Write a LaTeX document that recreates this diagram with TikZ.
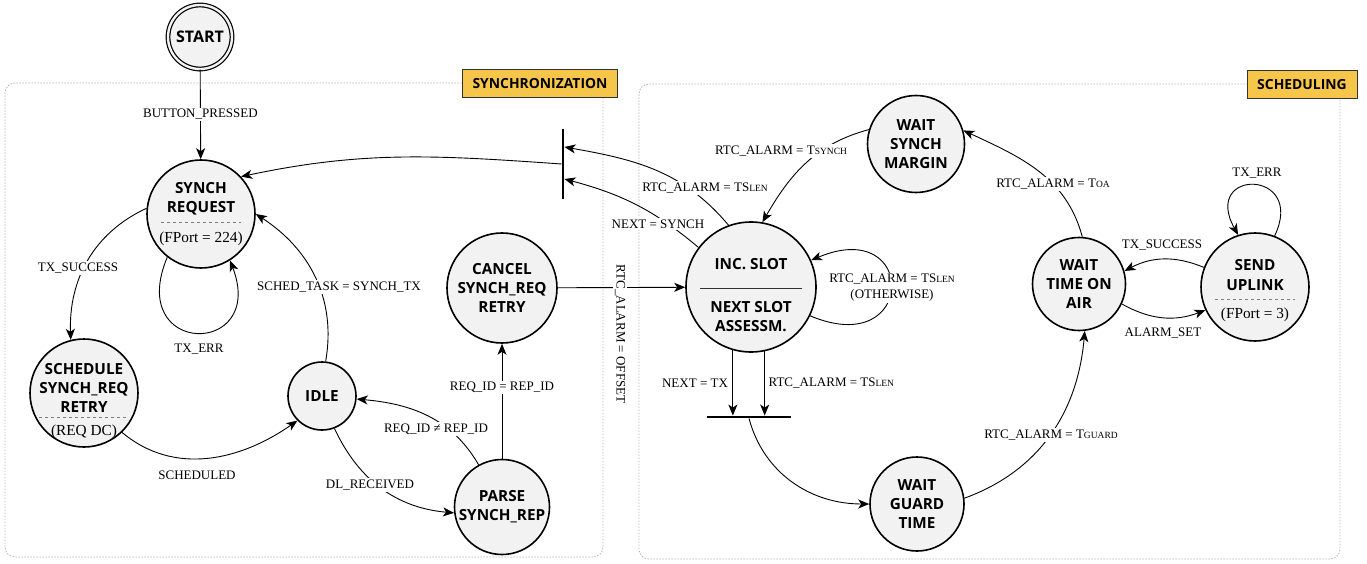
\documentclass[tikz,border=0pt]{standalone}
\usepackage{fontspec}
\setmainfont{Liberation Serif}
\newfontfamily\statefont{Open Sans}
\usetikzlibrary{arrows.meta}
\definecolor{stategray}{HTML}{F2F2F2}
\definecolor{groupgray}{HTML}{B4B4B4}
\definecolor{tagyellow}{HTML}{F5C64A}
\newcommand{\sml}[1]{{\fontsize{9.5}{11}\selectfont #1}}
\newcommand{\statenote}[1]{{\rmfamily\mdseries\fontsize{15.3}{17}\selectfont #1}}

\begin{document}
\begin{tikzpicture}[x=1pt,y=1pt]

\tikzset{
  StateStyle/.style = {circle, draw, line width=1.6pt, fill=stategray,
                       inner sep=0pt, minimum size=#1, align=center,
                       font=\statefont\bfseries\fontsize{15.3}{19}\selectfont},
  EdgeStyle/.style = {line width=0.9pt,
                      -{Stealth[length=11pt,width=9pt,inset=3pt]}},
  LabelStyle/.style = {fill=white, inner sep=1.5pt,
                       font=\fontsize{13}{16}\selectfont},
  BarStyle/.style = {fill=black, inner sep=0pt},
  GroupStyle/.style = {draw=groupgray, dash pattern=on 1.5pt off 1.5pt,
                       line width=0.8pt, rounded corners=10pt},
  TagStyle/.style = {draw=black!80, line width=1pt, fill=tagyellow,
                     minimum width=#1, minimum height=28pt, inner sep=0pt,
                     font=\statefont\bfseries\fontsize{13.9}{15}\selectfont},
  SepStyle/.style = {draw=gray, dashed, line width=0.6pt}
}

\useasboundingbox (0,0) rectangle (1367,563);

% groups
\draw[GroupStyle] (5,6) rectangle (603,480);
\draw[GroupStyle] (639,4) rectangle (1340,479);
\node[TagStyle=155pt] (synctag) at (540,479) {SYNCHRONIZATION};
\node[TagStyle=110pt] (schedtag) at (1302,478) {SCHEDULING};

% states
\node[StateStyle=64pt, line width=1.2pt, double=stategray, double distance=2.4pt,
      font=\statefont\bfseries\fontsize{16}{19}\selectfont] (start) at (200,526) {START};
\node[StateStyle=108pt, inner sep=-3pt] (sreq) at (201,349) {SYNCH\\REQUEST\\[11pt]\statenote{(FPort = 224)}};
\node[StateStyle=108pt, inner sep=-9pt, text height=87pt, text depth=3pt] (sched) at (84,170)
  {SCHEDULE\\SYNCH\_REQ\\RETRY\\[4pt]\statenote{(REQ DC)}};
\node[StateStyle=68pt] (idle) at (322,167) {IDLE};
\node[StateStyle=95pt] (parse) at (502,56) {PARSE\\SYNCH\_REP};
\node[StateStyle=110pt] (cancel) at (502,275) {CANCEL\\SYNCH\_REQ\\RETRY};
\node[StateStyle=130pt, inner sep=-4pt, text height=91pt, text depth=3pt] (inc) at (751,276)
  {INC. SLOT\\[24pt]NEXT SLOT\\ASSESSM.};
\node[StateStyle=97pt] (wsm) at (916,419) {WAIT\\SYNCH\\MARGIN};
\node[StateStyle=93pt] (wtoa) at (1079,279) {WAIT\\TIME ON\\AIR};
\node[StateStyle=108pt, inner sep=-4pt, text height=66pt, text depth=4pt] (send) at (1255,276)
  {SEND\\[1pt]UPLINK\\[9pt]\statenote{(FPort = 3)}};
\node[StateStyle=94pt] (wgt) at (917,59) {WAIT\\GUARD\\TIME};

% bars
\node[BarStyle, minimum width=2.5pt, minimum height=70pt] (sbar) at (563,399) {};
\node[BarStyle, minimum width=84pt, minimum height=2.5pt] (gbar) at (749,146) {};

% separators
\draw[SepStyle] ([xshift=-40pt,yshift=-8pt]sreq.center) -- ([xshift=40pt,yshift=-8pt]sreq.center);
\draw[SepStyle] ([xshift=-45pt,yshift=-24pt]sched.center) -- ([xshift=43pt,yshift=-24pt]sched.center);
\draw[SepStyle] ([xshift=-40pt,yshift=-12pt]send.center) -- ([xshift=40pt,yshift=-12pt]send.center);
\draw[line width=0.8pt, black!80] ([xshift=-51pt,yshift=-1pt]inc.center) -- ([xshift=51pt,yshift=-1pt]inc.center);

% synchronization
\draw[EdgeStyle] (start) -- node[LabelStyle] {BUTTON\_PRESSED} (sreq);
\draw[EdgeStyle] (sreq.174) to[out=205,in=92] (sched.104)
  node[LabelStyle] at (78,295) {TX\_SUCCESS};
\draw[EdgeStyle] (sreq.232) .. controls +(-42,-100) and +(37,-97) .. (sreq.302)
  node[LabelStyle] at (199,214) {TX\_ERR};
\draw[EdgeStyle] (sched.-46) to[out=-40,in=215] (idle.225)
  node[LabelStyle] at (197,88) {SCHEDULED};
\draw[EdgeStyle] (idle.84) to[out=80,in=-33] (sreq.0)
  node[LabelStyle] at (339,276) {SCHED\_TASK = SYNCH\_TX};
\draw[EdgeStyle] (idle.-69) to[out=-65,in=175] (parse.187)
  node[LabelStyle] at (370,78) {DL\_RECEIVED};
\draw[EdgeStyle] (parse.119) to[out=120,in=-5] (idle.-5)
  node[LabelStyle] at (436,134) {REQ\_ID ≠ REP\_ID};
\draw[EdgeStyle] (parse) -- node[LabelStyle, pos=0.62] {REQ\_ID = REP\_ID} (cancel);
\draw[EdgeStyle] (sbar.west) to[out=176,in=12] (sreq.43);

% scheduling
\draw[EdgeStyle] (cancel) -- (inc);
\node[LabelStyle, rotate=-90] (offset) at (620,229) {RTC\_ALARM = OFFSET};
\draw[EdgeStyle] (inc.110) to[out=130,in=-10] ([yshift=17pt]sbar.east)
  node[LabelStyle] at (705,375) {RTC\_ALARM = TS\sml{LEN}};
\draw[EdgeStyle] (inc.143) to[out=140,in=-15] ([yshift=-15pt]sbar.east)
  node[LabelStyle] at (658,339) {NEXT = SYNCH};
\draw[EdgeStyle] (inc.-26) .. controls +(107,-45) and +(107,45) .. (inc.24)
  node[LabelStyle, align=center] at (892,275) {RTC\_ALARM = TS\sml{LEN}\\(OTHERWISE)};
\draw[EdgeStyle] (inc.254) -- (inc.254 |- gbar.north)
  node[LabelStyle, anchor=east, pos=0.5, xshift=-3pt] {NEXT = TX};
\draw[EdgeStyle] (inc.282) -- (inc.282 |- gbar.north)
  node[LabelStyle, anchor=west, pos=0.5, xshift=2pt] {RTC\_ALARM = TS\sml{LEN}};
\draw[EdgeStyle] (gbar.south) to[out=-75,in=180] (wgt.west);
\draw[EdgeStyle] (wgt.7) to[out=20,in=-95] (wtoa.-83)
  node[LabelStyle] at (1051,128) {RTC\_ALARM = T\sml{GUARD}};
\draw[EdgeStyle] (wtoa.-25) to[bend right=25] (send.205)
  node[LabelStyle] at (1163,230) {ALARM\_SET};
\draw[EdgeStyle] (send.159) to[bend right=25] (wtoa.16)
  node[LabelStyle] at (1162,318) {TX\_SUCCESS};
\draw[EdgeStyle] (send.69) .. controls +(32,67) and +(-37,67) .. (send.108)
  node[LabelStyle] at (1257,390) {TX\_ERR};
\draw[EdgeStyle] (wtoa.86) to[out=105,in=-25] (wsm.16)
  node[LabelStyle] at (1053,379) {RTC\_ALARM = T\sml{OA}};
\draw[EdgeStyle] (wsm.163) to[out=195,in=60] (inc.80)
  node[LabelStyle] at (781,412) {RTC\_ALARM = T\sml{SYNCH}};

\end{tikzpicture}
\end{document}
